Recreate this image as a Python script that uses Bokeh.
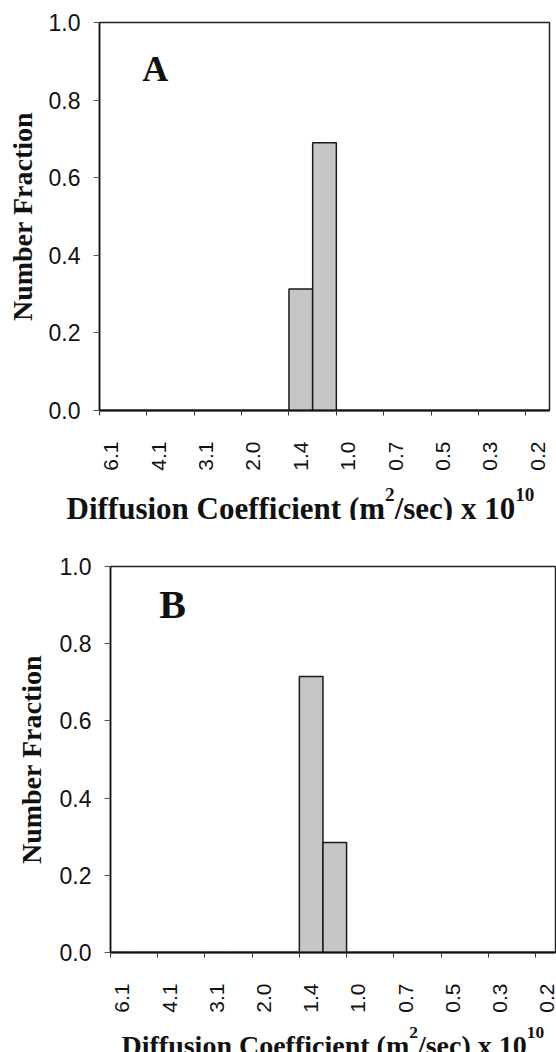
import math
from bokeh.plotting import figure
from bokeh.models import (FixedTicker, CustomJSTickFormatter, PrintfTickFormatter, Range1d,
                          Label, ColumnDataSource)
from bokeh.embed import file_html
from bokeh.resources import INLINE
from bokeh.core.properties import value

# ---- data ----
tick_labels = ["6.1", "4.1", "3.1", "2.0", "1.4", "1.0", "0.7", "0.5", "0.3", "0.2"]
n_bins = 19
fraction_a = [0, 0, 0, 0, 0, 0, 0, 0, 0.313, 0.690, 0, 0, 0, 0, 0, 0, 0, 0, 0]
fraction_b = [0, 0, 0, 0, 0, 0, 0, 0, 0.715, 0.285, 0, 0, 0, 0, 0, 0, 0, 0, 0]
y_ticks = [0.0, 0.2, 0.4, 0.6, 0.8, 1.0]
y_title = "Number Fraction"
# x title pieces: (text, is_superscript)
x_title_pieces = [("Diffusion Coefficient (m", False), ("2", True), ("/sec) x 10", False), ("10", True)]

# Times/Liberation Serif Bold advance widths (em/1000)
TB = {' ': 250, '(': 333, ')': 333, '/': 278, 'C': 722, 'D': 722, 'c': 444, 'e': 444,
      'f': 333, 'i': 278, 'm': 833, 'n': 556, 'o': 500, 's': 389, 't': 333, 'u': 556, 'x': 500}
for d in "0123456789":
    TB[d] = 500


def title_fig(pieces, height, x0, baseline, size):
    """A frame-only strip holding the x-axis title, in pixel coordinates (y down)."""
    t = figure(width=556, height=height, x_range=Range1d(0, 556), y_range=Range1d(height, 0),
               output_backend="svg", toolbar_location=None,
               x_axis_location=None, y_axis_location=None,
               min_border_left=0, min_border_right=0, min_border_top=0, min_border_bottom=0)
    t.grid.visible = False
    t.outline_line_color = None
    t.background_fill_color = "white"
    t.border_fill_color = "white"
    xs, ys, txts, sizes = [], [], [], []
    x = x0
    for txt, sup in pieces:
        fs = size * 0.62 if sup else size
        xs.append(x)
        ys.append(baseline - (size * 0.45 if sup else 0))
        txts.append(txt)
        sizes.append(f"{fs:.1f}px")
        x += sum(TB.get(c, 500) for c in txt) / 1000 * fs
    src = ColumnDataSource(dict(x=xs, y=ys, text=txts, size=sizes))
    t.text(x="x", y="y", text="text", source=src, text_font=value("Liberation Serif"),
           text_font_style="bold", text_font_size="size", text_color="#111111",
           text_baseline="alphabetic", text_align="left")
    return t


def panel(values, letter, letter_x, letter_y, letter_size, height, mb_left, mb_right, mb_top,
          mb_bottom, x_end, ylab_standoff):
    p = figure(width=556, height=height, x_range=Range1d(0, x_end), y_range=Range1d(0, 1),
               output_backend="svg", toolbar_location=None,
               min_border_left=mb_left, min_border_right=mb_right,
               min_border_top=mb_top, min_border_bottom=mb_bottom)
    p.grid.visible = False
    p.background_fill_color = "white"
    p.border_fill_color = "white"
    p.outline_line_color = "#222222"
    p.outline_line_width = 1.5

    centers = [i + 0.5 for i in range(n_bins)]
    p.vbar(x=centers, top=values, bottom=0, width=1.0,
           fill_color="#c6c6c6", line_color="#1a1a1a", line_width=1.5)

    label_pos = [2 * k + 0.5 for k in range(len(tick_labels))]
    bounds = [2 * k for k in range(len(tick_labels))]
    xa = p.xaxis[0]
    xa.ticker = FixedTicker(ticks=label_pos, minor_ticks=bounds)
    xa.formatter = CustomJSTickFormatter(args=dict(labels=tick_labels), code="""
        const i = Math.round((tick - 0.5) / 2);
        return (i >= 0 && i < labels.length) ? labels[i] : '';
    """)
    xa.major_label_orientation = math.pi / 2
    xa.major_tick_out = 0
    xa.major_tick_in = 0
    xa.minor_tick_out = 5
    xa.minor_tick_in = 0
    xa.minor_tick_line_color = "#333333"
    xa.major_label_standoff = 26
    xa.major_label_text_font = "Liberation Sans"
    xa.major_label_text_font_size = "21px"
    xa.major_label_text_color = "#111111"
    xa.axis_line_color = "#111111"
    xa.axis_line_width = 2

    ya = p.yaxis[0]
    ya.ticker = FixedTicker(ticks=y_ticks)
    ya.formatter = PrintfTickFormatter(format="%.1f")
    ya.major_tick_out = 6
    ya.major_tick_in = 0
    ya.minor_tick_out = 0
    ya.minor_tick_in = 0
    ya.major_tick_line_color = "#555555"
    ya.major_label_standoff = 13
    ya.major_label_text_font = "Liberation Sans"
    ya.major_label_text_font_size = "23px"
    ya.major_label_text_color = "#111111"
    ya.axis_line_color = "#111111"
    ya.axis_line_width = 1.5
    ya.axis_label = y_title
    ya.axis_label_text_font = "Liberation Serif"
    ya.axis_label_text_font_style = "bold"
    ya.axis_label_text_font_size = "28px"
    ya.axis_label_text_color = "#111111"
    ya.axis_label_standoff = ylab_standoff

    p.add_layout(Label(x=letter_x, y=letter_y, text=letter, text_font="Liberation Serif",
                       text_font_style="bold", text_font_size=f"{letter_size}px",
                       text_color="#111111", text_baseline="alphabetic"))
    return p


# panel A: page rows 0-474, title strip 474-520
pa = panel(fraction_a, "A", 1.8, 0.879, 36, 474, 99, 7, 22, 64, 19, 8)
ta = title_fig(x_title_pieces, 46, 66, 34, 31)
# panel B: page rows 520-1015, title strip 1015-1052
pb = panel(fraction_b, "B", 2.07, 0.902, 40, 495, 110, 1, 46, 62, 18.85, 10)
tb = title_fig(x_title_pieces, 37, 121, 30, 28)

# separate roots so that the two panels keep their own (different) plot-frame offsets
open("out.html", "w").write(file_html([pa, ta, pb, tb], INLINE))
